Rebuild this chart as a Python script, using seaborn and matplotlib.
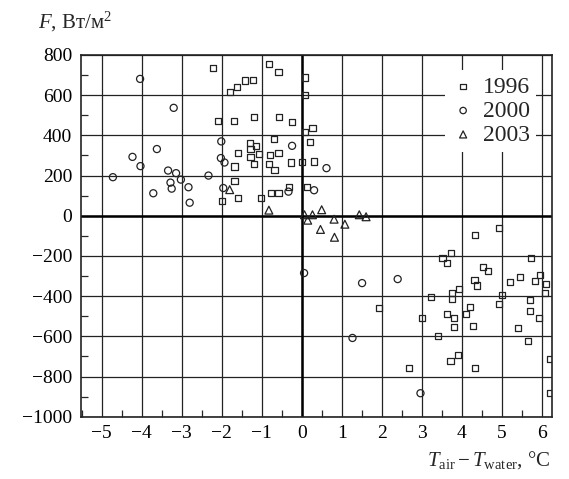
import pandas as pd
from matplotlib import pyplot as plt
from matplotlib.ticker import MultipleLocator
import seaborn as sns

sns.set_style('ticks')
plt.rcParams['font.family'] = ['Liberation Serif', 'DejaVu Serif']
plt.rcParams['mathtext.fontset'] = 'custom'
plt.rcParams['mathtext.rm'] = 'Liberation Serif'
plt.rcParams['mathtext.it'] = 'Liberation Serif:italic'

# 1996
x_1996 = [-2.21, -0.81, -0.58, 0.09, -1.21, -1.41, -1.61, -1.8, 0.09, -2.09,
          -1.7, -1.19, -0.57, -0.25, 0.27, 0.09, 0.21, -0.7, -1.29, -1.14,
          -1.28, -1.07, -0.58, -1.59, -1.28, -0.8, -1.19, -0.81, -1.68, -0.68,
          -0.26, 0.0, 0.31, -1.68, -0.31, -0.77, -0.58, 0.14, -1.59, -1.01,
          -2.0,
          1.93, 2.68, 3.01, 3.23, 3.41, 3.52, 3.63, 3.73, 3.75, 3.75,
          3.63, 3.81, 3.81, 3.72, 3.9, 3.93, 4.11, 4.21, 4.29, 4.33,
          4.34, 4.32, 4.39, 4.53, 4.65, 4.93, 4.93, 5.01, 5.22, 5.42,
          5.45, 5.65, 5.72, 5.72, 5.74, 5.84, 5.94, 5.96, 6.09, 6.1,
          6.2, 6.2]
y_1996 = [735, 755, 717, 688, 675, 673, 640, 615, 602, 470,
          470, 493, 493, 465, 437, 417, 368, 383, 363, 348,
          330, 308, 313, 310, 293, 300, 258, 258, 245, 227,
          265, 268, 270, 175, 145, 115, 115, 142, 90, 87,
          72,
          -458, -757, -508, -402, -597, -208, -233, -187, -382, -415,
          -487, -510, -553, -722, -695, -365, -488, -455, -548, -757,
          -98, -320, -347, -253, -275, -62, -438, -393, -328, -558,
          -303, -623, -420, -472, -210, -323, -510, -295, -385, -338,
          -713, -880]

# 2000
x_2000 = [-4.72, -4.23, -4.04, -4.03, -3.71, -3.62, -3.34, -3.28, -3.25, -3.2,
          -3.14, -3.02, -2.83, -2.8, -2.33, -2.02, -2.01, -1.96, -1.93, -0.33,
          -0.24, 0.31, 0.62, 0.06, 1.27, 1.51, 2.4, 2.97]
y_2000 = [192, 293, 681, 247, 112, 332, 225, 165, 135, 537,
          212, 180, 142, 65, 200, 287, 370, 138, 265, 120,
          348, 127, 237, -285, -608, -335, -315, -883]

# 2003
x_2003 = [-1.8, -0.82, 0.07, 0.15, 0.27, 0.5, 0.47, 0.81, 0.82, 1.08, 1.44, 1.61]
y_2003 = [130, 28, 5, -22, 5, 30, -68, -17, -107, -42, 5, -5]

fig = plt.figure(figsize=(5.69, 4.79), dpi=100)
ax = fig.add_axes([0.1418, 0.130, 0.8288, 0.7552])

ax.grid(True, color='#222222', lw=0.9, zorder=0)
ax.axhline(0, color='k', lw=1.8, zorder=1)
ax.axvline(0, color='k', lw=1.8, zorder=1)

kw = dict(facecolor='none', edgecolor='#222222', linewidth=0.9, zorder=3, ax=ax)
sns.scatterplot(x=x_1996, y=y_1996, marker='s', s=19, label='1996', **kw)
sns.scatterplot(x=x_2000, y=y_2000, marker='o', s=26, label='2000', **kw)
sns.scatterplot(x=x_2003, y=y_2003, marker='^', s=32, label='2003', **kw)

ax.set_xlim(-5.525, 6.265)
ax.set_ylim(-1000, 800)
ax.xaxis.set_major_locator(MultipleLocator(1))
ax.yaxis.set_major_locator(MultipleLocator(200))
ax.xaxis.set_minor_locator(MultipleLocator(0.5))
ax.yaxis.set_minor_locator(MultipleLocator(100))
ax.tick_params(which='major', length=0, labelsize=14, pad=6, colors='k')
ax.tick_params(which='minor', direction='in', length=5, width=0.9,
               top=False, right=False)
for sp in ax.spines.values():
    sp.set_linewidth(1.2)
    sp.set_color('#222222')

leg = ax.legend(loc='upper right', bbox_to_anchor=(0.991, 0.99), fontsize=17,
                frameon=True, fancybox=False, framealpha=1, facecolor='white',
                edgecolor='none', handletextpad=0.35, borderpad=0.25,
                labelspacing=0.1, handlelength=1.0, markerscale=0.9)

fig.text(0.066, 0.94, '$F$, Вт/м$^{2}$', fontsize=15, ha='left', va='baseline')
fig.text(0.968, 0.028, r'$T_{\mathrm{air}} - T_{\mathrm{water}}$, °C', fontsize=15,
         ha='right', va='baseline')

plt.savefig('out.png', dpi=100)
